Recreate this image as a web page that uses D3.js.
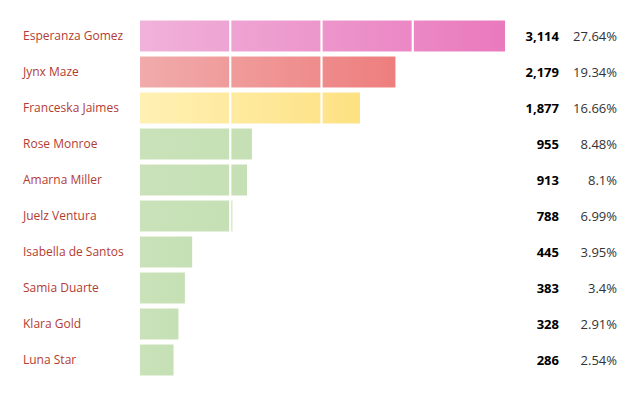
<!DOCTYPE html>
<html lang="en">
<head>
  <meta charset="UTF-8">
  <title>Top performers</title>
  <style>
    body { margin: 0; background: #fff; }
    svg { display: block; font-family: "Open Sans", sans-serif; }
    .name { fill: #b23c32; font-size: 12px; }
    .val { fill: #000; font-size: 13px; font-weight: bold; }
    .pct { fill: #333; font-size: 13px; }
  </style>
</head>
<body>
  <svg id="chart" width="640" height="400"></svg>
  <script src="https://d3js.org/d3.v7.min.js"></script>
  <script>
    const names = ["Esperanza Gomez", "Jynx Maze", "Franceska Jaimes", "Rose Monroe", "Amarna Miller",
                   "Juelz Ventura", "Isabella de Santos", "Samia Duarte", "Klara Gold", "Luna Star"];
    const counts = [3114, 2179, 1877, 955, 913, 788, 445, 383, 328, 286];
    const shares = ["27.64%", "19.34%", "16.66%", "8.48%", "8.1%", "6.99%", "3.95%", "3.4%", "2.91%", "2.54%"];
    // gradient stops per bar (left, right)
    const palette = [
      ["#f0b2da", "#e979bd"],
      ["#f1abab", "#ee7e7e"],
      ["#fff0b4", "#fde182"],
      ["#c9e2b9", "#c6e0b5"]
    ];

    const svg = d3.select("#chart");
    const x0 = 140;
    const x = d3.scaleLinear().domain([0, d3.max(counts)]).range([x0, 505]);
    const y = d3.scaleBand().domain(names).range([18, 378]).paddingInner(0.14).paddingOuter(0.07);

    const defs = svg.append("defs");
    names.forEach((n, i) => {
      const c = palette[Math.min(i, 3)];
      const g = defs.append("linearGradient").attr("id", "g" + i)
        .attr("x1", 0).attr("x2", 1).attr("y1", 0).attr("y2", 0);
      g.append("stop").attr("offset", 0).attr("stop-color", c[0]);
      g.append("stop").attr("offset", 1).attr("stop-color", c[1]);
    });

    svg.selectAll(".bar").data(counts).enter()
      .append("rect").attr("class", "bar")
      .attr("x", x0)
      .attr("y", (d, i) => y(names[i]))
      .attr("width", d => x(d) - x0)
      .attr("height", y.bandwidth())
      .attr("fill", (d, i) => `url(#g${i})`);

    // white grid lines at quarters of the max
    const grid = d3.range(1, 4).map(k => d3.max(counts) * k / 4);
    svg.selectAll(".grid").data(grid).enter()
      .append("line").attr("class", "grid")
      .attr("x1", d => x(d) - 1).attr("x2", d => x(d) - 1)
      .attr("y1", 0).attr("y2", 400)
      .attr("stroke", "#fff").attr("stroke-width", 2.2);

    const mid = n => y(n) + y.bandwidth() / 2;

    svg.selectAll(".name").data(names).enter()
      .append("text").attr("class", "name")
      .attr("x", 23).attr("y", d => mid(d)).attr("dy", "0.35em")
      .text(d => d);

    svg.selectAll(".val").data(counts).enter()
      .append("text").attr("class", "val")
      .attr("x", 559).attr("y", (d, i) => mid(names[i])).attr("dy", "0.35em")
      .attr("text-anchor", "end")
      .text(d => d3.format(",")(d));

    svg.selectAll(".pct").data(shares).enter()
      .append("text").attr("class", "pct")
      .attr("x", 617).attr("y", (d, i) => mid(names[i])).attr("dy", "0.35em")
      .attr("text-anchor", "end")
      .text(d => d);
  </script>
</body>
</html>
